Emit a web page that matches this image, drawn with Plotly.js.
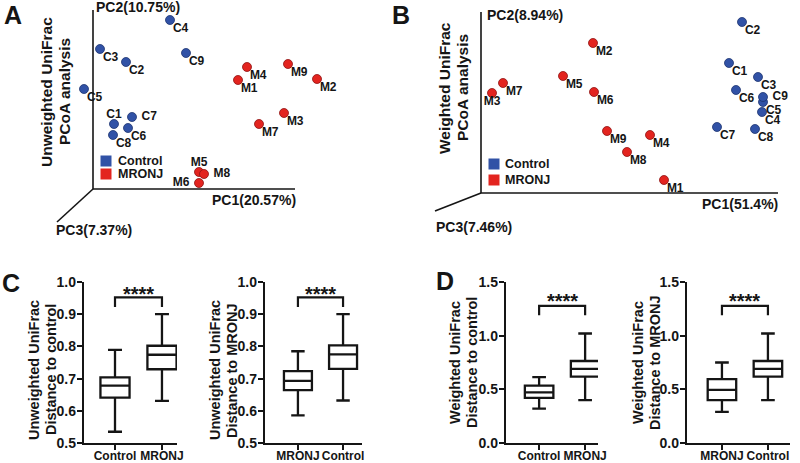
<!DOCTYPE html>
<html>
<head>
<meta charset="utf-8">
<script src="https://cdn.plot.ly/plotly-3.0.1.min.js"></script>
<style>html,body{margin:0;padding:0;background:#fff;}#chart{width:800px;height:463px;}</style>
</head>
<body>
<div id="chart"></div>
<script>
// ---------- DATA ----------
// Panel A: Unweighted UniFrac PCoA (PC1 / PC2 scores, arbitrary units)
const aControlLabels = ['C1','C2','C3','C4','C5','C6','C7','C8','C9'];
const aControlPC1 = [21, 33, 7, 77, -9, 35, 39, 20, 93];
const aControlPC2 = [65, 127, 140, 169, 100, 61, 72, 54, 136];
const aMronjLabels = ['M1','M2','M3','M4','M5','M6','M7','M8','M9'];
const aMronjPC1 = [145, 224, 191, 154, 106, 106, 166, 111, 195];
const aMronjPC2 = [109, 110, 76, 122, 17, 6, 65, 15, 125];

// Panel B: Weighted UniFrac PCoA
const bControlLabels = ['C1','C2','C3','C4','C5','C6','C7','C8','C9'];
const bControlPC1 = [248, 261, 277, 281, 282, 255, 236, 274, 282];
const bControlPC2 = [130, 171, 116, 81, 91, 103, 66, 64, 96];
const bMronjLabels = ['M1','M2','M3','M4','M5','M6','M7','M8','M9'];
const bMronjPC1 = [183, 112, 11, 169, 82, 113, 22, 146, 126];
const bMronjPC2 = [13, 150, 100, 58, 117, 101, 110, 41, 62];

// Panel C: Unweighted UniFrac distances (box statistics)
const cLeftCats = ['Control', 'MRONJ'];
const cLeftLow = [0.535, 0.631];
const cLeftQ1 = [0.641, 0.729];
const cLeftMed = [0.678, 0.774];
const cLeftQ3 = [0.704, 0.802];
const cLeftHigh = [0.789, 0.900];

const cRightCats = ['MRONJ', 'Control'];
const cRightLow = [0.586, 0.632];
const cRightQ1 = [0.664, 0.730];
const cRightMed = [0.693, 0.775];
const cRightQ3 = [0.723, 0.803];
const cRightHigh = [0.785, 0.900];

// Panel D: Weighted UniFrac distances (box statistics)
const dLeftCats = ['Control', 'MRONJ'];
const dLeftLow = [0.32, 0.40];
const dLeftQ1 = [0.42, 0.618];
const dLeftMed = [0.472, 0.690];
const dLeftQ3 = [0.534, 0.764];
const dLeftHigh = [0.613, 1.02];

const dRightCats = ['MRONJ', 'Control'];
const dRightLow = [0.29, 0.40];
const dRightQ1 = [0.40, 0.618];
const dRightMed = [0.495, 0.690];
const dRightQ3 = [0.596, 0.764];
const dRightHigh = [0.750, 1.02];

const cTicks = [0.5, 0.6, 0.7, 0.8, 0.9, 1.0];
const dTicks = [0.0, 0.5, 1.0, 1.5];
const sigLabel = '****';

// ---------- LAYOUT HELPERS ----------
const W = 800, H = 463;
const px = x => x / W;
const py = y => 1 - y / H;
const FONT = 'Arial, "Liberation Sans", Helvetica, sans-serif';
const INK = '#151515';
const BLUE = '#3152a6', BLUE_EDGE = '#1d3370';
const RED = '#e3241f', RED_EDGE = '#8e1212';
const NB = '\u00a0\u00a0';

function pad(labels, positions) {
  return labels.map((t, i) => positions[i] === 'middle right' ? NB + t :
    positions[i] === 'middle left' ? t + NB : t);
}
function markerTrace(xs, ys, color, edge, xa, ya) {
  return {
    type: 'scatter', mode: 'markers', x: xs, y: ys, xaxis: xa, yaxis: ya, cliponaxis: false,
    marker: {size: 9, color: color, line: {color: edge, width: 0.8}},
    hoverinfo: 'skip', showlegend: false
  };
}
function labelTrace(xs, ys, labels, positions, xa, ya) {
  return {
    type: 'scatter', mode: 'markers+text', x: xs, y: ys, text: pad(labels, positions),
    textposition: positions, xaxis: xa, yaxis: ya, cliponaxis: false,
    marker: {size: 3, color: 'rgba(0,0,0,0)'},
    textfont: {family: FONT, size: 12, weight: 'bold', color: INK},
    hoverinfo: 'skip', showlegend: false
  };
}
function boxTrace(cats, low, q1, med, q3, high, xa, ya) {
  return {
    type: 'box', x: cats, q1: q1, median: med, q3: q3,
    lowerfence: low, upperfence: high, xaxis: xa, yaxis: ya,
    boxpoints: false, width: 0.62, whiskerwidth: 0.48,
    fillcolor: '#ffffff', line: {color: INK, width: 2.3},
    hoverinfo: 'skip', showlegend: false
  };
}

const aPos = ['top center','bottom right','bottom right','bottom right','bottom right','bottom right','middle right','bottom right','bottom right'];
const aMPos = ['bottom right','bottom right','bottom right','bottom right','top center','middle left','bottom right','middle right','bottom right'];
const bPos = ['bottom right','bottom right','bottom right','bottom right','bottom right','bottom right','bottom right','bottom right','middle right'];
const bMPos = ['bottom right','bottom right','bottom center','bottom right','bottom right','bottom right','bottom right','bottom right','bottom right'];

const data = [
  markerTrace(aControlPC1, aControlPC2, BLUE, BLUE_EDGE, 'x', 'y'),
  markerTrace(aMronjPC1, aMronjPC2, RED, RED_EDGE, 'x', 'y'),
  markerTrace(bControlPC1, bControlPC2, BLUE, BLUE_EDGE, 'x2', 'y2'),
  markerTrace(bMronjPC1, bMronjPC2, RED, RED_EDGE, 'x2', 'y2'),
  labelTrace(aControlPC1, aControlPC2, aControlLabels, aPos, 'x', 'y'),
  labelTrace(aMronjPC1, aMronjPC2, aMronjLabels, aMPos, 'x', 'y'),
  labelTrace(bControlPC1, bControlPC2, bControlLabels, bPos, 'x2', 'y2'),
  labelTrace(bMronjPC1, bMronjPC2, bMronjLabels, bMPos, 'x2', 'y2'),
  boxTrace(cLeftCats, cLeftLow, cLeftQ1, cLeftMed, cLeftQ3, cLeftHigh, 'x3', 'y3'),
  boxTrace(cRightCats, cRightLow, cRightQ1, cRightMed, cRightQ3, cRightHigh, 'x4', 'y4'),
  boxTrace(dLeftCats, dLeftLow, dLeftQ1, dLeftMed, dLeftQ3, dLeftHigh, 'x5', 'y5'),
  boxTrace(dRightCats, dRightLow, dRightQ1, dRightMed, dRightQ3, dRightHigh, 'x6', 'y6')
];

const hidden = {visible: false, fixedrange: true};
function boxX(d0, d1, r) {
  return {domain: [px(d0), px(d1)], range: r, type: 'category', showline: true, linewidth: 2.2,
    linecolor: INK, ticks: 'outside', ticklen: 5, tickwidth: 2.2, tickcolor: INK,
    tickangle: 0, ticklabelstandoff: -5,
    tickfont: {family: FONT, size: 12, weight: 'bold', color: INK}, showgrid: false,
    zeroline: false, fixedrange: true};
}
function boxY(anchor, r, ticks) {
  return {domain: [py(443), py(282)], range: r, anchor: anchor, showline: true, linewidth: 2.2,
    linecolor: INK, ticks: 'outside', ticklen: 5, tickwidth: 2.2, tickcolor: INK,
    tickvals: ticks, ticktext: ticks.map(v => v.toFixed(1)), ticklabelstandoff: -2,
    tickfont: {family: FONT, size: 14, weight: 'bold', color: INK}, showgrid: false,
    zeroline: false, fixedrange: true};
}

const layout = {
  width: W, height: H, margin: {l: 0, r: 0, t: 0, b: 0},
  paper_bgcolor: '#ffffff', plot_bgcolor: 'rgba(0,0,0,0)', showlegend: false,
  xaxis: Object.assign({domain: [px(40), px(340)], range: [-53, 247], anchor: 'y'}, hidden),
  yaxis: Object.assign({domain: [py(240), py(0)], range: [-51, 189], anchor: 'x'}, hidden),
  xaxis2: Object.assign({domain: [px(420), px(795)], range: [-61, 314], anchor: 'y2'}, hidden),
  yaxis2: Object.assign({domain: [py(240), py(0)], range: [-47, 193], anchor: 'x2'}, hidden),
  xaxis3: Object.assign(boxX(84, 177, [-0.66, 1.32]), {anchor: 'y3'}),
  yaxis3: boxY('x3', [0.5, 1.0], cTicks),
  xaxis4: Object.assign(boxX(265, 362, [-0.73, 1.42]), {anchor: 'y4'}),
  yaxis4: boxY('x4', [0.5, 1.0], cTicks),
  xaxis5: Object.assign(boxX(506, 598, [-0.72, 1.28]), {anchor: 'y5'}),
  yaxis5: boxY('x5', [0, 1.5], dTicks),
  xaxis6: Object.assign(boxX(687, 790, [-0.76, 1.48]), {anchor: 'y6'}),
  yaxis6: boxY('x6', [0, 1.5], dTicks),
  shapes: [],
  annotations: []
};

const S = layout.shapes, A = layout.annotations;
function line(xref, yref, x0, y0, x1, y1, w) {
  S.push({type: 'line', xref: xref, yref: yref, x0: x0, y0: y0, x1: x1, y1: y1,
    line: {color: INK, width: w}});
}
// PCoA axes (origin at 0,0 in each panel)
line('x', 'y', 0, 0, 0, 179, 1.6); line('x', 'y', 0, 0, 202, 0, 1.6); line('x', 'y', 0, 0, -36, -33, 1.6);
line('x2', 'y2', 0, 0, 0, 181, 1.6); line('x2', 'y2', 0, 0, 297, 0, 1.6); line('x2', 'y2', 0, 0, -46, -18, 1.6);

function txt(t, x, y, size, xanchor, extra) {
  A.push(Object.assign({text: t, xref: 'paper', yref: 'paper', x: px(x), y: py(y),
    xanchor: xanchor, yanchor: 'middle', showarrow: false,
    font: {family: FONT, size: size, weight: 'bold', color: INK}}, extra || {}));
}
const V = {textangle: -90};
// PCoA axis labels
txt('PC2(10.75%)', 94, 7, 14, 'left');
txt('PC1(20.57%)', 298, 200, 14, 'right');
txt('PC3(7.37%)', 54, 230, 14, 'left');
txt('PC2(8.94%)', 485, 15, 14, 'left');
txt('PC1(51.4%)', 780, 204, 14, 'right');
txt('PC3(7.46%)', 434, 227, 14, 'left');
// Y titles (two lines each)
txt('Unweighted UniFrac', 46, 92, 15.5, 'center', V); txt('PCoA analysis', 64, 92, 15.5, 'center', V);
txt('Weighted UniFrac', 444, 88, 15.5, 'center', V); txt('PCoA analysis', 462, 88, 15.5, 'center', V);
txt('Unweighted UniFrac', 34, 370, 14.5, 'center', V); txt('Distance to control', 51, 370, 14.5, 'center', V);
txt('Unweighted UniFrac', 215, 370, 14.5, 'center', V); txt('Distance to MRONJ', 232, 370, 14.5, 'center', V);
txt('Weighted UniFrac', 455, 363, 14.5, 'center', V); txt('Distance to control', 472, 363, 14.5, 'center', V);
txt('Weighted UniFrac', 638, 363, 14.5, 'center', V); txt('Distance to MRONJ', 655, 363, 14.5, 'center', V);
// Panel letters
txt('A', 2, 15, 25, 'left');
txt('B', 390, 15, 25, 'left');
txt('C', 0, 283, 25, 'left');
txt('D', 434, 281, 25, 'left');
// Manual legends
function legendBox(cx, cy, color) {
  S.push({type: 'rect', xref: 'paper', yref: 'paper', x0: px(cx - 5.5), x1: px(cx + 5.5),
    y0: py(cy + 5.5), y1: py(cy - 5.5), fillcolor: color, line: {width: 0}});
}
legendBox(106, 161, BLUE); legendBox(106, 174, RED);
txt('Control', 116, 161, 12.5, 'left'); txt('MRONJ', 116, 174, 12.5, 'left');
legendBox(494, 164, BLUE); legendBox(494, 180, RED);
txt('Control', 503, 164, 12.5, 'left'); txt('MRONJ', 503, 180, 12.5, 'left');

// Significance brackets
function bracket(xa, ya, top, leg, starY) {
  S.push({type: 'path', xref: xa, yref: ya,
    path: `M 0 ${leg} L 0 ${top} L 1 ${top} L 1 ${leg}`, line: {color: INK, width: 2.2}});
  A.push({text: sigLabel, xref: xa, yref: ya, x: 0.5, y: starY, showarrow: false,
    xanchor: 'center', yanchor: 'middle',
    font: {family: FONT, size: 20, weight: 'bold', color: INK}});
}
bracket('x3', 'y3', 0.952, 0.922, 0.962);
bracket('x4', 'y4', 0.952, 0.922, 0.962);
bracket('x5', 'y5', 1.277, 1.19, 1.32);
bracket('x6', 'y6', 1.277, 1.19, 1.32);

Plotly.newPlot('chart', data, layout, {staticPlot: true, displayModeBar: false});
</script>
</body>
</html>
